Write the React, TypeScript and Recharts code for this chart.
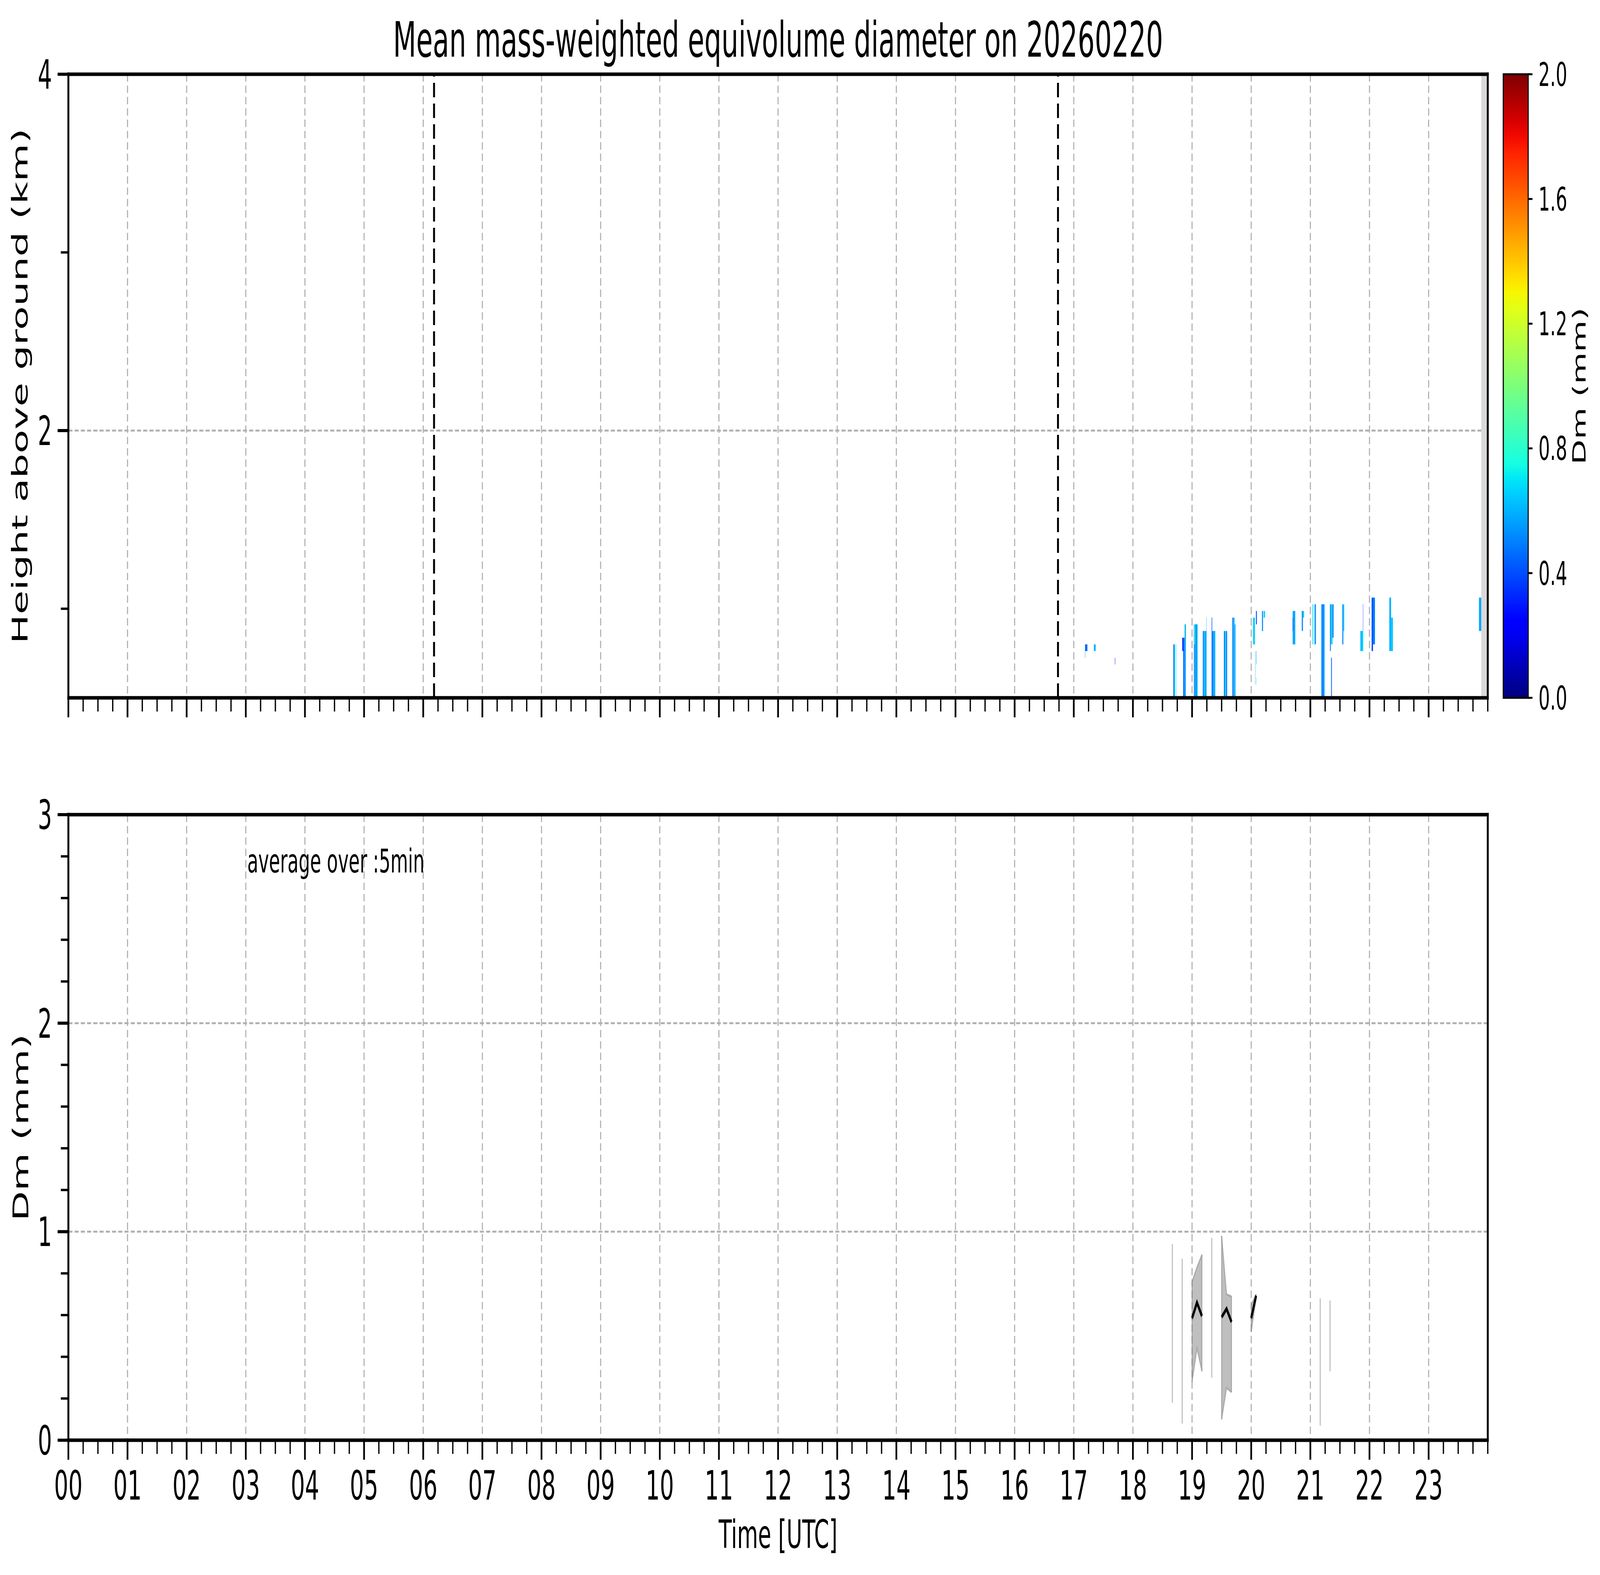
import React from 'react';
import {
  ComposedChart,
  XAxis,
  YAxis,
  CartesianGrid,
  ReferenceArea,
  ReferenceLine,
  Area,
  Line,
} from 'recharts';

// ---------------- data ----------------
const HOUR_TICKS = [0, 1, 2, 3, 4, 5, 6, 7, 8, 9, 10, 11, 12, 13, 14, 15, 16, 17, 18, 19, 20, 21, 22, 23];
const HOUR_LABELS = ['00', '01', '02', '03', '04', '05', '06', '07', '08', '09', '10', '11', '12', '13', '14', '15', '16', '17', '18', '19', '20', '21', '22', '23'];
const QUARTERS = [0.25, 0.5, 0.75];
const MINOR_X_TICKS = HOUR_TICKS.flatMap((h) => QUARTERS.map((q) => h + q)).concat([24]);

const HEIGHT_TICKS = [2, 4];
const HEIGHT_MINOR_TICKS = [1, 3];
const DM_TICKS = [0, 1, 2, 3];
const DM_MINOR_TICKS = [0.2, 0.4, 0.6, 0.8, 1.2, 1.4, 1.6, 1.8, 2.2, 2.4, 2.6, 2.8];
const CB_TICKS = [0, 0.4, 0.8, 1.2, 1.6, 2.0];

// sunrise / sunset markers (hours UTC)
const DAY_MARKERS = [6.183, 16.733];
// no-data band at end of day
const NO_DATA_BAND = [23.89, 24];

// radar range-gate edges (km above ground)
const HEIGHT_EDGES = [0.5, 0.5375, 0.575, 0.6125, 0.65, 0.6875, 0.725, 0.7625, 0.8, 0.8375, 0.875, 0.9125, 0.95, 0.9875, 1.025, 1.0625];

// [time start (h), time end (h), first gate, last gate (exclusive), Dm (mm)]
const RADAR_CELLS: [number, number, number, number, number][] = [
  [17.19, 17.23, 7, 8, 0.45],
  [17.19, 17.195, 6, 7, 0.6],
  [17.34, 17.37, 7, 8, 0.6],
  [17.695, 17.70, 5, 6, 0.25],
  [18.683, 18.692, 0, 8, 0.44],
  [18.692, 18.705, 0, 8, 0.58],
  [18.705, 18.712, 0, 8, 0.78],
  [18.712, 18.716, 0, 8, 0.55],
  [18.736, 18.740, 0, 8, 0.6],
  [18.834, 18.850, 7, 9, 0.3],
  [18.850, 18.870, 0, 9, 0.45],
  [18.870, 18.882, 0, 11, 0.62],
  [18.870, 18.882, 9, 11, 0.8],
  [18.882, 18.894, 0, 11, 0.5],
  [19.032, 19.040, 0, 11, 0.35],
  [19.040, 19.060, 0, 11, 0.6],
  [19.036, 19.050, 8, 11, 0.8],
  [19.060, 19.075, 0, 11, 0.5],
  [19.075, 19.094, 0, 11, 0.62],
  [19.182, 19.195, 0, 10, 0.45],
  [19.195, 19.225, 0, 10, 0.62],
  [19.225, 19.244, 0, 10, 0.55],
  [19.240, 19.244, 10, 12, 0.55],
  [19.331, 19.340, 0, 12, 0.4],
  [19.340, 19.360, 0, 10, 0.5],
  [19.360, 19.393, 0, 10, 0.6],
  [19.539, 19.555, 0, 10, 0.42],
  [19.555, 19.575, 0, 10, 0.68],
  [19.575, 19.593, 0, 10, 0.5],
  [19.682, 19.695, 0, 12, 0.4],
  [19.695, 19.720, 0, 12, 0.64],
  [19.720, 19.734, 0, 11, 0.56],
  [20.031, 20.063, 8, 12, 0.66],
  [20.080, 20.096, 11, 13, 0.42],
  [20.066, 20.070, 2, 7, 0.6],
  [20.084, 20.090, 5, 7, 0.6],
  [20.084, 20.088, 2, 3, 0.65],
  [20.182, 20.200, 10, 13, 0.52],
  [20.210, 20.234, 12, 13, 0.66],
  [20.701, 20.745, 8, 13, 0.58],
  [20.700, 20.706, 10, 12, 0.3],
  [20.855, 20.875, 10, 13, 0.52],
  [20.875, 20.894, 12, 13, 0.64],
  [21.037, 21.050, 8, 14, 0.68],
  [21.070, 21.094, 8, 14, 0.55],
  [21.185, 21.210, 0, 14, 0.55],
  [21.210, 21.225, 0, 14, 0.42],
  [21.225, 21.242, 0, 14, 0.6],
  [21.332, 21.345, 7, 14, 0.45],
  [21.345, 21.375, 8, 14, 0.66],
  [21.375, 21.393, 9, 14, 0.5],
  [21.351, 21.364, 0, 6, 0.45],
  [21.541, 21.558, 8, 14, 0.5],
  [21.558, 21.574, 10, 14, 0.7],
  [21.846, 21.875, 7, 10, 0.62],
  [21.875, 21.894, 7, 10, 0.68],
  [21.888, 21.892, 10, 14, 0.3],
  [22.036, 22.060, 7, 15, 0.4],
  [22.060, 22.093, 8, 15, 0.5],
  [22.335, 22.365, 7, 15, 0.6],
  [22.365, 22.396, 7, 12, 0.64],
  [23.851, 23.890, 10, 15, 0.58],
];

// surface Dm, 5-min averages
const DM_TIMES = [18.667, 18.833, 19.0, 19.083, 19.167, 19.333, 19.5, 19.583, 19.667, 20.0, 20.083, 21.167, 21.333];
const DM_LOW = [0.18, 0.08, 0.28, 0.44, 0.33, 0.30, 0.10, 0.25, 0.23, 0.52, 0.68, 0.07, 0.33];
const DM_HIGH = [0.94, 0.87, 0.76, 0.83, 0.89, 0.97, 0.98, 0.70, 0.69, 0.65, 0.70, 0.68, 0.67];
const DM_MEAN: (number | null)[] = [null, null, 0.585, 0.66, 0.595, null, 0.59, 0.63, 0.567, 0.585, 0.693, null, null];

// ---------------- helpers ----------------
const JET_R = [[0, 0], [0.35, 0], [0.66, 1], [0.89, 1], [1, 0.5]];
const JET_G = [[0, 0], [0.125, 0], [0.375, 1], [0.64, 1], [0.91, 0], [1, 0]];
const JET_B = [[0, 0.5], [0.11, 1], [0.34, 1], [0.65, 0], [1, 0]];
function seg(pts: number[][], v: number) {
  for (let i = 0; i < pts.length - 1; i++) {
    const [x0, y0] = pts[i];
    const [x1, y1] = pts[i + 1];
    if (v <= x1) return y0 + ((y1 - y0) * (v - x0)) / (x1 - x0);
  }
  return pts[pts.length - 1][1];
}
function jet(v: number) {
  const c = Math.max(0, Math.min(1, v));
  const h = (x: number) => Math.round(x * 255).toString(16).padStart(2, '0');
  return '#' + h(seg(JET_R, c)) + h(seg(JET_G, c)) + h(seg(JET_B, c));
}
const GRAD_STOPS = Array.from({ length: 41 }, (_, i) => i / 40);

// build runs of consecutive 5-min samples
type Row = { t: number; range: [number, number] | null; mean: number | null };
const runs: number[][] = [];
DM_TIMES.forEach((t, i) => {
  const last = runs[runs.length - 1];
  if (last && t - DM_TIMES[last[last.length - 1]] < 0.09) last.push(i);
  else runs.push([i]);
});
const DM_ROWS: Row[] = [];
runs.forEach((r) => {
  r.forEach((i) => DM_ROWS.push({ t: DM_TIMES[i], range: [DM_LOW[i], DM_HIGH[i]], mean: DM_MEAN[i] }));
  DM_ROWS.push({ t: DM_TIMES[r[r.length - 1]] + 0.04, range: null, mean: null });
});
const EDGE_IDX = Array.from(new Set(runs.flatMap((r) => [r[0], r[r.length - 1]])));
const RADAR_ROWS = RADAR_CELLS.map((c) => ({ t: c[0] }));

// ---------------- layout ----------------
const W = 7442;
const H = 4031;
const FONT = "'DejaVu Sans', 'Liberation Sans', sans-serif";
const PL = 318;
const PR = 6920;
const TOP_Y0 = 190;
const TOP_Y1 = 1786;
const BOT_Y0 = 2085;
const BOT_Y1 = 3686;
const CB_X0 = 6992;
const CB_X1 = 7108;

const SPINE = { stroke: '#000', strokeWidth: 9, strokeLinecap: 'square' as const };
const MAJOR_TL = { stroke: '#000', strokeWidth: 8 };
const MINOR_TL = { stroke: '#000', strokeWidth: 6 };
const TICK_FONT = { fontSize: 104, fill: '#000', fontFamily: FONT };
const GRID = { stroke: '#b0b0b0', strokeDasharray: '19 10', strokeWidth: 5 };
const NoTick = () => <g />;

// each panel: 2 bottom x-axes (1px), 1 top x-axis (1px), 2 left y-axes (1px), 1 right y-axis (1px)
function TopPanel() {
  const h = 1950;
  const w = 6990;
  return (
    <div style={{ position: 'absolute', left: 0, top: 0 }}>
      <ComposedChart width={w} height={h} data={RADAR_ROWS}
        margin={{ top: TOP_Y0 - 1, left: PL - 2, right: w - PR - 1, bottom: h - TOP_Y1 - 2 }}>
        <XAxis xAxisId="main" type="number" dataKey="t" domain={[0, 24]} allowDataOverflow ticks={HOUR_TICKS} interval={0}
          height={1} tickSize={50} tick={NoTick} axisLine={SPINE} tickLine={MAJOR_TL} />
        <XAxis xAxisId="minor" type="number" dataKey="t" domain={[0, 24]} allowDataOverflow ticks={MINOR_X_TICKS} interval={0}
          height={1} tickSize={34} tick={NoTick} axisLine={false} tickLine={MINOR_TL} />
        <XAxis xAxisId="top" orientation="top" type="number" dataKey="t" domain={[0, 24]} allowDataOverflow
          height={1} tick={false} tickLine={false} axisLine={SPINE} />
        <YAxis yAxisId="main" type="number" domain={[0.5, 4]} allowDataOverflow ticks={HEIGHT_TICKS} interval={0}
          width={1} tickSize={50} tickMargin={26} tick={TICK_FONT} axisLine={SPINE} tickLine={MAJOR_TL} />
        <YAxis yAxisId="minor" type="number" domain={[0.5, 4]} allowDataOverflow ticks={HEIGHT_MINOR_TICKS} interval={0}
          width={1} tickSize={34} tick={NoTick} axisLine={false} tickLine={MINOR_TL} />
        <YAxis yAxisId="right" orientation="right" type="number" domain={[0.5, 4]} allowDataOverflow
          width={1} tick={false} tickLine={false} axisLine={SPINE} />
        <CartesianGrid xAxisId="main" yAxisId="main" {...GRID} />
        <ReferenceArea xAxisId="main" yAxisId="main" x1={NO_DATA_BAND[0]} x2={NO_DATA_BAND[1]} y1={0.5} y2={4}
          fill="#d9d9d9" fillOpacity={1} stroke="none" />
        {RADAR_CELLS.map(([t0, t1, r0, r1, dm], i) => (
          <ReferenceArea key={'c' + i} xAxisId="main" yAxisId="main" x1={t0} x2={t1}
            y1={HEIGHT_EDGES[r0]} y2={HEIGHT_EDGES[r1]} fill={jet(dm / 2)} fillOpacity={1} stroke="none" />
        ))}
        {DAY_MARKERS.map((t) => (
          <ReferenceLine key={'d' + t} xAxisId="main" yAxisId="main" x={t} stroke="#000" strokeWidth={9}
            strokeDasharray="37 16" />
        ))}
      </ComposedChart>
    </div>
  );
}

function BottomPanel() {
  const top = 1950;
  const h = H - top;
  const w = 6990;
  return (
    <div style={{ position: 'absolute', left: 0, top }}>
      <ComposedChart width={w} height={h} data={DM_ROWS}
        margin={{ top: BOT_Y0 - top - 1, left: PL - 2, right: w - PR - 1, bottom: top + h - BOT_Y1 - 2 }}>
        <XAxis xAxisId="main" type="number" dataKey="t" domain={[0, 24]} allowDataOverflow ticks={HOUR_TICKS} interval={0}
          height={1} tickSize={50} tickMargin={28} tick={TICK_FONT} tickFormatter={(v: number) => HOUR_LABELS[v]}
          axisLine={SPINE} tickLine={MAJOR_TL} />
        <XAxis xAxisId="minor" type="number" dataKey="t" domain={[0, 24]} allowDataOverflow ticks={MINOR_X_TICKS} interval={0}
          height={1} tickSize={34} tick={NoTick} axisLine={false} tickLine={MINOR_TL} />
        <XAxis xAxisId="top" orientation="top" type="number" dataKey="t" domain={[0, 24]} allowDataOverflow
          height={1} tick={false} tickLine={false} axisLine={SPINE} />
        <YAxis yAxisId="main" type="number" domain={[0, 3]} allowDataOverflow ticks={DM_TICKS} interval={0}
          width={1} tickSize={50} tickMargin={26} tick={TICK_FONT} axisLine={SPINE} tickLine={MAJOR_TL} />
        <YAxis yAxisId="minor" type="number" domain={[0, 3]} allowDataOverflow ticks={DM_MINOR_TICKS} interval={0}
          width={1} tickSize={34} tick={NoTick} axisLine={false} tickLine={MINOR_TL} />
        <YAxis yAxisId="right" orientation="right" type="number" domain={[0, 3]} allowDataOverflow
          width={1} tick={false} tickLine={false} axisLine={SPINE} />
        <CartesianGrid xAxisId="main" yAxisId="main" {...GRID} />
        <Area xAxisId="main" yAxisId="main" type="linear" dataKey="range" fill="#808080" fillOpacity={0.5}
          stroke="#808080" strokeOpacity={0.5} strokeWidth={5} connectNulls={false} dot={false} activeDot={false}
          isAnimationActive={false} />
        {EDGE_IDX.map((i) => (
          <ReferenceLine key={'e' + i} xAxisId="main" yAxisId="main"
            segment={[{ x: DM_TIMES[i], y: DM_LOW[i] }, { x: DM_TIMES[i], y: DM_HIGH[i] }]}
            stroke="#808080" strokeOpacity={0.5} strokeWidth={5} />
        ))}
        <Line xAxisId="main" yAxisId="main" type="linear" dataKey="mean" stroke="#000" strokeWidth={9.5}
          dot={false} activeDot={false} connectNulls={false} isAnimationActive={false} />
      </ComposedChart>
    </div>
  );
}

function ColorBar() {
  const left = 6800;
  const w = W - left;
  const h = 1950;
  return (
    <div style={{ position: 'absolute', left, top: 0 }}>
      <ComposedChart width={w} height={h} data={[{ x: 0 }, { x: 1 }]}
        margin={{ top: TOP_Y0, bottom: h - TOP_Y1, left: CB_X0 - left, right: left + w - CB_X1 - 1 }}>
        <XAxis xAxisId="cb" type="number" dataKey="x" domain={[0, 1]} allowDataOverflow hide />
        <YAxis yAxisId="cb" orientation="right" type="number" domain={[0, 2]} allowDataOverflow ticks={CB_TICKS} interval={0}
          width={1} tickSize={20} tickMargin={28} tickFormatter={(v: number) => v.toFixed(1)}
          tick={{ fontSize: 84, fill: '#000', fontFamily: FONT }} axisLine={false} tickLine={{ stroke: '#000', strokeWidth: 5 }} />
        <ReferenceArea xAxisId="cb" yAxisId="cb" x1={0} x2={1} y1={0} y2={2} fill="url(#jetGradient)" fillOpacity={1}
          stroke="#000" strokeWidth={5} />
      </ComposedChart>
    </div>
  );
}

// The browser viewport may be smaller than the requested 7442x4031 canvas;
// map the fixed 7442x4031 layout onto whatever viewport is available.
function useFitScale() {
  if (typeof window === 'undefined') return [1, 1];
  const sx = window.innerWidth / W;
  const sy = window.innerHeight / H;
  return [sx > 0 && sx < 1 ? sx : 1, sy > 0 && sy < 1 ? sy : 1];
}

export default function App() {
  const [sx, sy] = useFitScale();
  return (
    <div style={{ position: 'relative', margin: '-8px', width: Math.floor(W * sx), height: Math.floor(H * sy), overflow: 'hidden', background: '#fff' }}>
      <div style={{ position: 'absolute', left: 0, top: 0, width: W, height: H, background: '#fff', fontFamily: FONT,
        transform: `scale(${sx}, ${sy})`, transformOrigin: '0 0' }}>
        <svg width={0} height={0} style={{ position: 'absolute' }}>
          <defs>
            <linearGradient id="jetGradient" x1="0" y1="1" x2="0" y2="0">
              {GRAD_STOPS.map((g) => (
                <stop key={g} offset={g} stopColor={jet(g)} />
              ))}
            </linearGradient>
          </defs>
        </svg>
        <TopPanel />
        <BottomPanel />
        <ColorBar />
        <svg width={W} height={H} style={{ position: 'absolute', left: 0, top: 0, pointerEvents: 'none' }} fontFamily={FONT}>
          <text x={(PL + PR) / 2} y={145} fontSize={125} textAnchor="middle" fill="#000">
            Mean mass-weighted equivolume diameter on 20260220
          </text>
          <text transform={`translate(128, ${(TOP_Y0 + TOP_Y1) / 2}) rotate(-90)`} fontSize={100} textAnchor="middle" fill="#000">
            Height above ground (km)
          </text>
          <text transform={`translate(130, ${(BOT_Y0 + BOT_Y1) / 2}) rotate(-90)`} fontSize={100} textAnchor="middle" fill="#000">
            Dm (mm)
          </text>
          <text x={(PL + PR) / 2} y={3962} fontSize={100} textAnchor="middle" fill="#000">
            Time [UTC]
          </text>
          <text x={1150} y={2233} fontSize={84} fill="#000">
            average over :5min
          </text>
          <text transform={`translate(7375, ${(TOP_Y0 + TOP_Y1) / 2}) rotate(-90)`} fontSize={84} textAnchor="middle" fill="#000">
            Dm (mm)
          </text>
        </svg>
      </div>
    </div>
  );
}
